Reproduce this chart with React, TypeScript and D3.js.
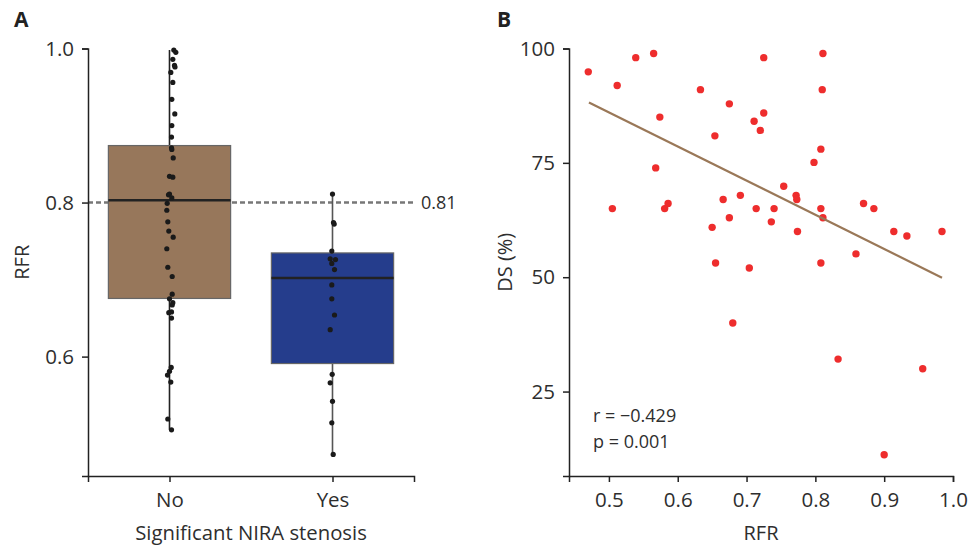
import React, { useEffect, useRef } from "react";
import * as d3 from "d3";

// panel A: RFR by significant NIRA stenosis
const groups = ["No", "Yes"];
const rfrNo = [
  0.998, 0.995, 0.986, 0.978, 0.976, 0.969, 0.956, 0.934, 0.915, 0.9,
  0.885, 0.871, 0.869, 0.858, 0.834, 0.833, 0.811, 0.81, 0.806, 0.799,
  0.79, 0.775, 0.763, 0.755, 0.74, 0.716, 0.704, 0.681, 0.675, 0.67,
  0.667, 0.658, 0.657, 0.65, 0.586, 0.581, 0.576, 0.567, 0.519, 0.505,
];
// horizontal jitter of the dots, px
const jitterNo = [
  4.3, 6.3, 3.3, 5, 5.5, 1.3, 3.3, 2.3, 5.3, 2.3,
  2, 2, 2.3, 3.7, 0, 3.3, 0, -1, 2.3, -2.3,
  -2.7, -1.7, -0.7, 3.7, -2.7, -1.7, 2.7, 2.7, 0, 3.3,
  2.7, 2, -0.7, 2, 1.7, 0, -2, 1.3, -1.7, 2,
];
const rfrYes = [
  0.811, 0.774, 0.772, 0.737, 0.727, 0.726, 0.721, 0.713, 0.693, 0.675,
  0.654, 0.635, 0.577, 0.566, 0.542, 0.514, 0.473,
];
const jitterYes = [0, 1, 1.7, -0.7, -2.3, 3, -0.7, 2, -0.7, -0.7, 2, -2.3, -0.3, -2.3, 0, -0.7, 0.7];
// [whisker low, q1, median, q3, whisker high]
const boxNo = [0.505, 0.6755, 0.803, 0.874, 0.998];
const boxYes = [0.473, 0.591, 0.702, 0.7346, 0.811];
const cutoff = 0.8;
const cutoffLabel = "0.81";
const rfrTicks = [0.6, 0.8, 1.0];

// panel B: RFR vs DS
const scatterRfr = [
  0.47, 0.512, 0.539, 0.565, 0.505, 0.574, 0.568, 0.581, 0.586, 0.633,
  0.654, 0.675, 0.65, 0.655, 0.666, 0.675, 0.68, 0.691, 0.704, 0.711,
  0.72, 0.725, 0.725, 0.714, 0.736, 0.74, 0.754, 0.772, 0.773, 0.774,
  0.798, 0.808, 0.81, 0.811, 0.808, 0.811, 0.808, 0.833, 0.859, 0.87,
  0.885, 0.9, 0.914, 0.933, 0.956, 0.984,
];
const scatterDs = [
  94.9, 91.9, 98, 98.9, 65, 85, 73.9, 65, 66.1, 91,
  80.9, 87.9, 60.9, 53.1, 67, 63, 40, 67.9, 52, 84.1,
  82.1, 98, 85.9, 65, 62.1, 65, 69.9, 67.9, 67, 60,
  75.1, 78, 91, 98.9, 65, 63, 53.1, 32.1, 55.1, 66.1,
  65, 11.2, 60, 59, 30, 60,
];
const fitLine = [
  [0.471, 88.2],
  [0.984, 49.9],
];
const rfrTicksB = [0.5, 0.6, 0.7, 0.8, 0.9, 1.0];
const dsTicks = [25, 50, 75, 100];
const statsText = ["r = \u22120.429", "p = 0.001"];

const FONT = "'Open Sans', 'DejaVu Sans', sans-serif";
const TXT = "#2e2e2e";

const styleAxis = (g) => {
  g.select(".domain").attr("stroke", "#222").attr("stroke-width", 1.5);
  g.selectAll(".tick line").attr("stroke", "#222").attr("stroke-width", 1.5);
  g.selectAll(".tick text")
    .attr("fill", TXT)
    .style("font-family", FONT)
    .style("font-size", "20.5px");
};

const App = () => {
  const svgRef = useRef(null);

  useEffect(() => {
    const width = 980;
    const height = 545;
    const top = 48.5;
    const bottom = 476;

    const svg = d3.select(svgRef.current);
    svg.selectAll("*").remove();
    svg.attr("width", width).attr("height", height);

    // ---------- panel A ----------
    const xA = d3.scalePoint().domain(groups).range([88, 414]).padding(0.5);
    const yA = d3.scaleLinear().domain([0.445, 1.0]).range([bottom, top]);
    const boxW = xA.step() * 0.75;

    const a = svg.append("g");

    a.append("text")
      .attr("x", 14).attr("y", 27)
      .style("font-family", FONT).style("font-weight", 700).style("font-size", "21px")
      .attr("fill", "#222")
      .text("A");

    a.append("line")
      .attr("x1", 88).attr("x2", 415)
      .attr("y1", yA(cutoff)).attr("y2", yA(cutoff))
      .attr("stroke", "#777").attr("stroke-width", 2.6)
      .attr("stroke-dasharray", "5 3");
    a.append("text")
      .attr("x", 421).attr("y", yA(cutoff)).attr("dy", "0.35em")
      .style("font-family", FONT).style("font-size", "18px")
      .attr("fill", TXT)
      .text(cutoffLabel);

    const boxes = [
      { name: "No", stats: boxNo, fill: "#97775B", wc: "#222", vals: rfrNo, jit: jitterNo },
      { name: "Yes", stats: boxYes, fill: "#253D8C", wc: "#555", vals: rfrYes, jit: jitterYes },
    ];

    boxes.forEach((b) => {
      const cx = xA(b.name);
      const [lo, q1, med, q3, hi] = b.stats;
      a.append("line")
        .attr("x1", cx).attr("x2", cx)
        .attr("y1", yA(lo)).attr("y2", yA(hi))
        .attr("stroke", b.wc).attr("stroke-width", 1.6);
      a.append("rect")
        .attr("x", cx - boxW / 2).attr("width", boxW)
        .attr("y", yA(q3)).attr("height", yA(q1) - yA(q3))
        .attr("fill", b.fill)
        .attr("stroke", "#666").attr("stroke-width", 1.2);
      a.append("line")
        .attr("x1", cx - boxW / 2).attr("x2", cx + boxW / 2)
        .attr("y1", yA(med)).attr("y2", yA(med))
        .attr("stroke", "#222").attr("stroke-width", 2.6);
      a.selectAll(null)
        .data(b.vals)
        .enter()
        .append("circle")
        .attr("cx", (d, i) => cx + b.jit[i])
        .attr("cy", (d) => yA(d))
        .attr("r", 2.6)
        .attr("fill", "#1a1a1a");
    });

    a.append("g")
      .attr("transform", "translate(88,0)")
      .call(d3.axisLeft(yA).tickValues(rfrTicks).tickFormat(d3.format(".1f")).tickSizeOuter(0).tickSize(6).tickPadding(8))
      .call(styleAxis);
    a.append("g")
      .attr("transform", `translate(0,${bottom})`)
      .call(d3.axisBottom(xA).tickSizeOuter(0).tickSize(6).tickPadding(10))
      .call(styleAxis);

    a.append("text")
      .attr("x", 251).attr("y", 540)
      .attr("text-anchor", "middle")
      .style("font-family", FONT).style("font-size", "20.3px")
      .attr("fill", TXT)
      .text("Significant NIRA stenosis");
    a.append("text")
      .attr("transform", `translate(29,${(top + bottom) / 2}) rotate(-90)`)
      .attr("text-anchor", "middle")
      .style("font-family", FONT).style("font-size", "20px")
      .attr("fill", TXT)
      .text("RFR");

    // ---------- panel B ----------
    const xB = d3.scaleLinear().domain([0.442, 1.0]).range([569, 953]);
    const yB = d3.scaleLinear().domain([6.54, 100]).range([bottom, top]);
    const b = svg.append("g");

    b.append("text")
      .attr("x", 497).attr("y", 27)
      .style("font-family", FONT).style("font-weight", 700).style("font-size", "21px")
      .attr("fill", "#222")
      .text("B");

    b.selectAll(null)
      .data(scatterRfr)
      .enter()
      .append("circle")
      .attr("cx", (d) => xB(d))
      .attr("cy", (d, i) => yB(scatterDs[i]))
      .attr("r", 3.7)
      .attr("fill", "#EE2D2D");

    b.append("path")
      .datum(fitLine)
      .attr("d", d3.line().x((d) => xB(d[0])).y((d) => yB(d[1])))
      .attr("fill", "none")
      .attr("stroke", "#9A7858")
      .attr("stroke-width", 2.2);

    b.append("g")
      .attr("transform", "translate(569,0)")
      .call(d3.axisLeft(yB).tickValues(dsTicks).tickSizeOuter(0).tickSize(6).tickPadding(8))
      .call(styleAxis);
    b.append("g")
      .attr("transform", `translate(0,${bottom})`)
      .call(d3.axisBottom(xB).tickValues(rfrTicksB).tickFormat(d3.format(".1f")).tickSizeOuter(0).tickSize(6).tickPadding(10))
      .call(styleAxis);

    b.selectAll(null)
      .data(statsText)
      .enter()
      .append("text")
      .attr("x", 593)
      .attr("y", (d, i) => 422 + i * 26)
      .style("font-family", FONT).style("font-size", "18px")
      .attr("fill", TXT)
      .text((d) => d);

    b.append("text")
      .attr("x", 761).attr("y", 540)
      .attr("text-anchor", "middle")
      .style("font-family", FONT).style("font-size", "20px")
      .attr("fill", TXT)
      .text("RFR");
    b.append("text")
      .attr("transform", `translate(512,${(top + bottom) / 2}) rotate(-90)`)
      .attr("text-anchor", "middle")
      .style("font-family", FONT).style("font-size", "20px")
      .attr("fill", TXT)
      .text("DS (%)");
  }, []);

  return (
    <div style={{ position: "absolute", left: 0, top: 0, background: "#fff" }}>
      <svg ref={svgRef} style={{ display: "block" }}></svg>
    </div>
  );
};

export default App;
